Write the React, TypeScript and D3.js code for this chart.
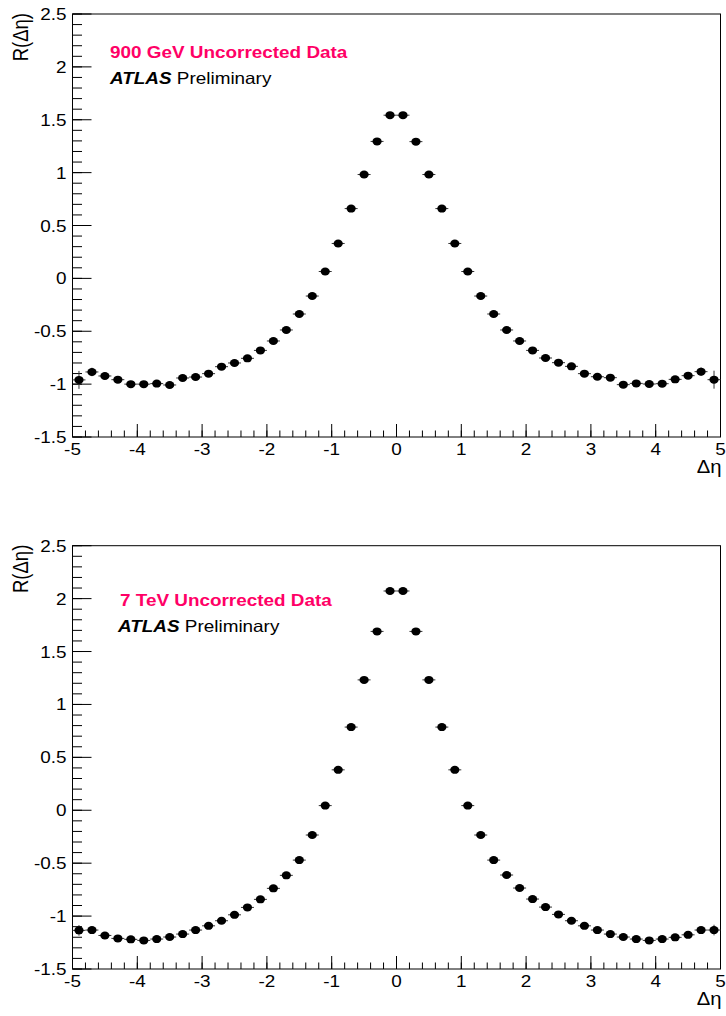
import React from "react";
import * as d3 from "d3";

const binCenters: number[] = d3.range(50).map((i) => -4.9 + i * 0.2);

const r900: number[] = [
  -0.96, -0.885, -0.923, -0.958, -1.0, -1.0, -0.995, -1.008, -0.942, -0.933,
  -0.901, -0.835, -0.8, -0.756, -0.681, -0.592, -0.488, -0.337, -0.167, 0.065,
  0.33, 0.66, 0.982, 1.295, 1.543, 1.543, 1.293, 0.982, 0.66, 0.33,
  0.065, -0.167, -0.337, -0.488, -0.592, -0.681, -0.753, -0.797, -0.832, -0.901,
  -0.93, -0.939, -1.005, -0.993, -0.999, -0.996, -0.955, -0.92, -0.882, -0.958,
];
const e900: number[] = [
  0.085, 0.04, 0.03, 0.03, 0.03, 0.03, 0.03, 0.03, 0.03, 0.03,
  0.03, 0.03, 0.03, 0.03, 0.03, 0.03, 0.03, 0.03, 0.03, 0.03,
  0.03, 0.03, 0.03, 0.03, 0.03, 0.03, 0.03, 0.03, 0.03, 0.03,
  0.03, 0.03, 0.03, 0.03, 0.03, 0.03, 0.03, 0.03, 0.03, 0.03,
  0.03, 0.03, 0.03, 0.03, 0.03, 0.03, 0.03, 0.03, 0.04, 0.085,
];

const r7: number[] = [
  -1.135, -1.132, -1.183, -1.211, -1.22, -1.23, -1.217, -1.198, -1.17, -1.132,
  -1.092, -1.044, -0.988, -0.918, -0.842, -0.738, -0.615, -0.471, -0.234, 0.044,
  0.382, 0.786, 1.232, 1.69, 2.072, 2.072, 1.69, 1.232, 0.786, 0.382,
  0.044, -0.234, -0.471, -0.612, -0.735, -0.839, -0.915, -0.984, -1.044, -1.092,
  -1.132, -1.17, -1.198, -1.217, -1.23, -1.217, -1.201, -1.177, -1.132, -1.132,
];
const e7: number[] = [
  0.05, 0.03, 0.02, 0.02, 0.02, 0.02, 0.02, 0.02, 0.02, 0.02,
  0.02, 0.02, 0.02, 0.02, 0.02, 0.02, 0.02, 0.02, 0.02, 0.02,
  0.02, 0.02, 0.02, 0.02, 0.02, 0.02, 0.02, 0.02, 0.02, 0.02,
  0.02, 0.02, 0.02, 0.02, 0.02, 0.02, 0.02, 0.02, 0.02, 0.02,
  0.02, 0.02, 0.02, 0.02, 0.02, 0.02, 0.02, 0.02, 0.03, 0.05,
];

const xMajorTicks: number[] = [-5, -4, -3, -2, -1, 0, 1, 2, 3, 4, 5];
const yMajorTicks: number[] = [-1.5, -1, -0.5, 0, 0.5, 1, 1.5, 2, 2.5];
const xTickLabels: string[] = ["-5", "-4", "-3", "-2", "-1", "0", "1", "2", "3", "4", "5"];
const yTickLabels: string[] = ["-1.5", "-1", "-0.5", "0", "0.5", "1", "1.5", "2", "2.5"];

const FONT = "'Liberation Sans', Arial, Helvetica, sans-serif";
const SX = 1.16;
const FS = 16.3;
const PINK = "#ff0066";

type PanelProps = {
  top: number;
  bottom: number;
  values: number[];
  errors: number[];
  title: string;
  titleX: number;
  titleY: number;
  atlasX: number;
  atlasY: number;
};

const Txt = ({ x, y, anchor = "start", children, weight = "normal", fill = "#000", fontStyle = "normal", rotate = 0, size = FS }: any) => (
  <text
    transform={`translate(${x},${y}) scale(${SX},1)${rotate ? ` rotate(${rotate})` : ""}`}
    textAnchor={anchor}
    fontFamily={FONT}
    fontSize={size}
    fontWeight={weight}
    fontStyle={fontStyle}
    fill={fill}
  >
    {children}
  </text>
);

function Panel({ top, bottom, values, errors, title, titleX, titleY, atlasX, atlasY }: PanelProps) {
  const left = 72.5;
  const right = 720.5;
  const x = d3.scaleLinear().domain([-5, 5]).range([left, right]);
  const y = d3.scaleLinear().domain([-1.5, 2.5]).range([bottom, top]);
  const xMinor = d3.range(-5, 5.0001, 0.2).map((v) => Math.round(v * 10) / 10);
  const yMinor = d3.range(-1.5, 2.5001, 0.1).map((v) => Math.round(v * 10) / 10);
  return (
    <g>
      <rect x={left} y={top} width={right - left} height={bottom - top} fill="none" stroke="#000" strokeWidth={1} />
      {xMinor.map((v, i) => (
        <line key={"xm" + i} x1={x(v)} x2={x(v)} y1={bottom} y2={bottom - 6.5} stroke="#000" strokeWidth={1} />
      ))}
      {xMajorTicks.map((v, i) => (
        <line key={"xM" + i} x1={x(v)} x2={x(v)} y1={bottom} y2={bottom - 13} stroke="#000" strokeWidth={1} />
      ))}
      {yMinor.map((v, i) => (
        <line key={"ym" + i} x1={left} x2={left + 9.5} y1={y(v)} y2={y(v)} stroke="#000" strokeWidth={1} />
      ))}
      {yMajorTicks.map((v, i) => (
        <line key={"yM" + i} x1={left} x2={left + 19} y1={y(v)} y2={y(v)} stroke="#000" strokeWidth={1} />
      ))}
      {xMajorTicks.map((v, i) => (
        <Txt key={"xl" + i} x={x(v)} y={bottom + 18} anchor="middle">
          {xTickLabels[i]}
        </Txt>
      ))}
      {yMajorTicks.map((v, i) => (
        <Txt key={"yl" + i} x={left - 6} y={y(v) + 6} anchor="end">
          {yTickLabels[i]}
        </Txt>
      ))}
      <Txt x={right + 1} y={bottom + 36} anchor="end" size={17.5}>Δη</Txt>
      <Txt x={28} y={top - 1} anchor="end" rotate={-90} size={18.5}>R(Δη)</Txt>
      {binCenters.map((c, i) => (
        <g key={"p" + i}>
          <line x1={x(c - 0.1)} x2={x(c + 0.1)} y1={y(values[i])} y2={y(values[i])} stroke="#333" strokeWidth={1} />
          <line x1={x(c)} x2={x(c)} y1={y(values[i] - errors[i])} y2={y(values[i] + errors[i])} stroke="#333" strokeWidth={1} />
          <ellipse cx={x(c)} cy={y(values[i])} rx={4.6} ry={4} fill="#000" />
        </g>
      ))}
      <Txt x={titleX} y={titleY} weight="bold" fill={PINK}>{title}</Txt>
      <Txt x={atlasX} y={atlasY}>
        <tspan fontWeight="bold" fontStyle="italic">ATLAS</tspan>
        <tspan> Preliminary</tspan>
      </Txt>
    </g>
  );
}

export default function App() {
  return (
    <svg
      width={726}
      height={1016}
      style={{ position: "absolute", left: 0, top: 0, background: "#fff" }}
    >
      <rect x={0} y={0} width={726} height={1016} fill="#fff" />
      <Panel
        top={14}
        bottom={437}
        values={r900}
        errors={e900}
        title="900 GeV Uncorrected Data"
        titleX={110}
        titleY={58}
        atlasX={110}
        atlasY={84}
      />
      <Panel
        top={545.7}
        bottom={969}
        values={r7}
        errors={e7}
        title="7 TeV Uncorrected Data"
        titleX={120}
        titleY={606}
        atlasX={118}
        atlasY={632}
      />
    </svg>
  );
}
